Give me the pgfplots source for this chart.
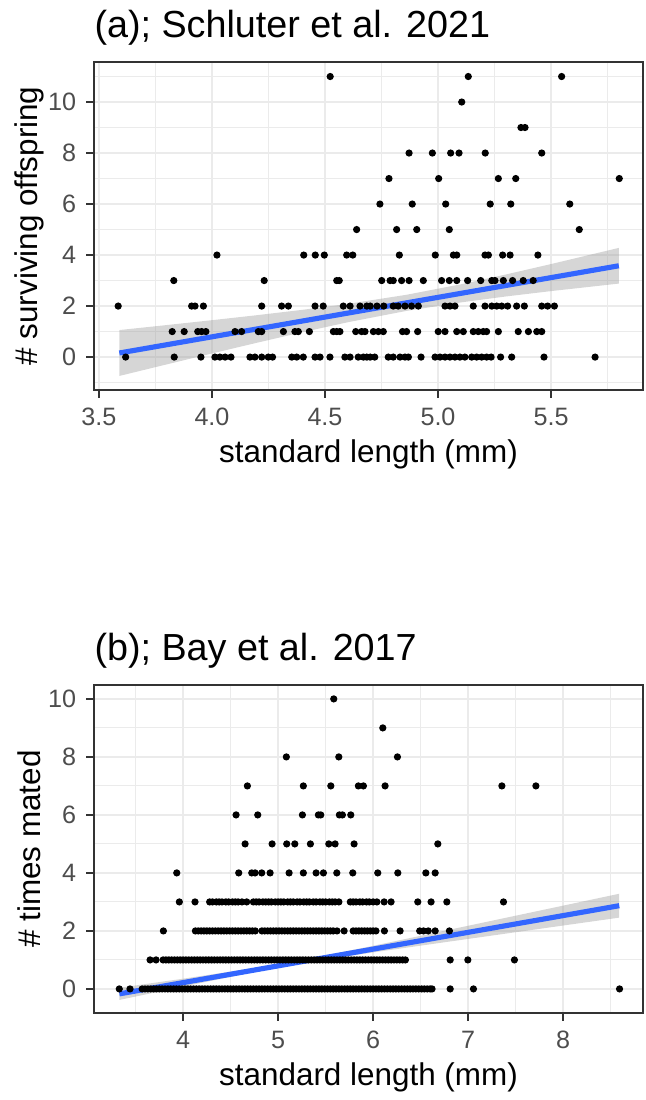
\documentclass[border=0pt]{standalone}
\usepackage{fontspec}
\setmainfont{Liberation Sans}
\usepackage{pgfplots}
\pgfplotsset{compat=1.18}
\definecolor{gridc}{HTML}{EBEBEB}
\definecolor{borderc}{HTML}{333333}
\definecolor{tickc}{HTML}{4D4D4D}
\definecolor{smoothc}{HTML}{3366FF}
\definecolor{ribc}{HTML}{999999}
\pgfplotsset{
 ggstyle/.style={
  scale only axis, width=192.15pt, height=114.8pt,
  axis line style={borderc, line width=0.75pt},
  grid=both,
  major grid style={gridc, line width=0.6pt},
  minor grid style={gridc, line width=0.35pt},
  tick align=outside, major tick length=2.75pt, minor tick length=0pt,
  tick style={borderc, line width=0.6pt},
  xtick pos=left, ytick pos=left,
  ticklabel style={font=\fontsize{8.8}{10}\selectfont, text=tickc},
  /pgf/number format/assume math mode=true,
  label style={font=\fontsize{11}{13}\selectfont},
  xlabel style={at={(axis description cs:0.5,-0.195)}, anchor=center},
  ylabel style={at={(axis description cs:-0.118,0.5)}, anchor=center},
  title style={at={(0,1)}, anchor=base west, yshift=2.4pt, inner sep=0pt, font=\fontsize{13.2}{15}\selectfont},
 },
 pts/.style={only marks, mark=*, mark size=1.05pt, black},
 rib/.style={draw=none, fill=ribc, fill opacity=0.4},
 fit/.style={smoothc, line width=1.8pt},
}
\begin{document}
\begin{tikzpicture}
\path[use as bounding box] (0,0) rectangle (225.75pt,385pt);
% ---------- panel (a)
\begin{axis}[ggstyle, at={(32.9pt,363.3pt)}, anchor=north west,
 xmin=3.478, xmax=5.907, ymin=-1.29, ymax=11.57,
 xtick={3.5,4,4.5,5,5.5}, xticklabels={3.5,4.0,4.5,5.0,5.5},
 minor xtick={3.75,4.25,4.75,5.25,5.75},
 ytick={0,2,4,6,8,10}, minor ytick={-1,1,3,5,7,9,11},
 xlabel={standard length (mm)}, ylabel={\# surviving offspring},
 title={(a); Schluter et al. 2021}]
\addplot[pts] coordinates {
(3.618,0)(3.833,0)(3.951,0)(4.013,0)(4.035,0)(4.058,0)(4.084,0)(4.168,0)(4.190,0)(4.220,0)(4.249,0)(4.268,0)
(4.353,0)(4.375,0)(4.404,0)(4.456,0)(4.478,0)(4.522,0)(4.588,0)(4.611,0)(4.647,0)(4.670,0)(4.685,0)(4.70,0)(4.72,0)
(4.780,0)(4.802,0)(4.832,0)(4.854,0)(4.869,0)(4.925,0)(4.987,0)(5.009,0)(5.031,0)(5.053,0)(5.075,0)(5.097,0)(5.119,0)
(5.149,0)(5.171,0)(5.193,0)(5.215,0)(5.235,0)(5.277,0)(5.326,0)(5.469,0)(5.695,0)
(3.824,1)(3.877,1)(3.937,1)(3.954,1)(3.973,1)(4.102,1)(4.131,1)(4.205,1)(4.220,1)(4.316,1)(4.367,1)(4.382,1)(4.431,1)
(4.537,1)(4.552,1)(4.566,1)(4.636,1)(4.662,1)(4.677,1)(4.714,1)(4.736,1)(4.758,1)(4.843,1)(4.861,1)(4.910,1)(5.001,1)
(5.031,1)(5.083,1)(5.112,1)(5.156,1)(5.178,1)(5.200,1)(5.215,1)(5.267,1)(5.355,1)(5.400,1)(5.437,1)(5.459,1)
(3.585,2)(3.910,2)(3.925,2)(3.962,2)(4.220,2)(4.308,2)(4.338,2)(4.456,2)(4.492,2)(4.581,2)(4.611,2)(4.655,2)(4.685,2)
(4.70,2)(4.73,2)(4.76,2)(4.802,2)(4.824,2)(4.854,2)(4.883,2)(4.913,2)(5.031,2)(5.053,2)(5.075,2)(5.156,2)(5.208,2)
(5.238,2)(5.260,2)(5.282,2)(5.308,2)(5.348,2)(5.382,2)(5.459,2)(5.485,2)(5.515,2)
(3.831,3)(4.231,3)(4.552,3)(4.563,3)(4.751,3)(4.788,3)(4.802,3)(4.839,3)(4.872,3)(4.935,3)(5.016,3)(5.050,3)(5.083,3)
(5.131,3)(5.189,3)(5.238,3)(5.252,3)(5.289,3)(5.330,3)(5.377,3)(5.421,3)
(4.022,4)(4.406,4)(4.457,4)(4.497,4)(4.596,4)(4.623,4)(4.829,4)(4.988,4)(5.068,4)(5.083,4)(5.208,4)(5.223,4)(5.286,4)
(5.319,4)(5.442,4)
(4.640,5)(4.817,5)(4.906,5)(5.050,5)(5.625,5)
(4.743,6)(4.886,6)(5.034,6)(5.231,6)(5.322,6)(5.583,6)
(4.783,7)(5.003,7)(5.267,7)(5.344,7)(5.802,7)
(4.872,8)(4.975,8)(5.056,8)(5.093,8)(5.209,8)(5.459,8)
(5.367,9)(5.385,9)
(5.105,10)
(4.523,11)(5.134,11)(5.547,11)
};
\addplot[rib] coordinates {
(3.59,1.06)(3.8,1.256)(4.0,1.447)(4.2,1.644)(4.4,1.853)(4.6,2.084)(4.86,2.442)(5.1,2.852)(5.3,3.238)(5.5,3.647)(5.8,4.281)
(5.8,2.881)(5.5,2.587)(5.3,2.376)(5.1,2.142)(4.86,1.810)(4.6,1.364)(4.4,0.975)(4.2,0.564)(4.0,0.143)(3.8,-0.286)(3.59,-0.74)
};
\addplot[fit] coordinates {(3.59,0.16)(5.80,3.58)};
\end{axis}
% ---------- panel (b)
\begin{axis}[ggstyle, at={(32.9pt,145.25pt)}, anchor=north west,
 xmin=3.063, xmax=8.84, ymin=-0.83, ymax=10.48,
 xtick={4,5,6,7,8}, minor xtick={3.5,4.5,5.5,6.5,7.5,8.5},
 ytick={0,2,4,6,8,10}, minor ytick={1,3,5,7,9},
 xlabel={standard length (mm)}, ylabel={\# times mated},
 title={(b); Bay et al. 2017}]
\addplot[pts] coordinates {
(3.329,0)(3.442,0)
(3.57,0)(3.60,0)(3.63,0)(3.66,0)(3.69,0)(3.72,0)(3.75,0)(3.78,0)(3.81,0)(3.84,0)(3.87,0)(3.90,0)(3.93,0)(3.96,0)(3.99,0)
(4.02,0)(4.05,0)(4.08,0)(4.11,0)(4.14,0)(4.17,0)(4.20,0)(4.23,0)(4.26,0)(4.29,0)(4.32,0)(4.35,0)(4.38,0)(4.41,0)(4.44,0)
(4.47,0)(4.50,0)(4.53,0)(4.56,0)(4.59,0)(4.62,0)(4.65,0)(4.68,0)(4.71,0)(4.74,0)(4.77,0)(4.80,0)(4.83,0)(4.86,0)(4.89,0)
(4.92,0)(4.95,0)(4.98,0)(5.01,0)(5.04,0)(5.07,0)(5.10,0)(5.13,0)(5.16,0)(5.19,0)(5.22,0)(5.25,0)(5.28,0)(5.31,0)(5.34,0)
(5.37,0)(5.40,0)(5.43,0)(5.46,0)(5.49,0)(5.52,0)(5.55,0)(5.58,0)(5.61,0)(5.64,0)(5.67,0)(5.70,0)(5.73,0)(5.76,0)(5.79,0)
(5.82,0)(5.85,0)(5.88,0)(5.91,0)(5.94,0)(5.97,0)(6.00,0)(6.03,0)(6.06,0)(6.09,0)(6.12,0)(6.15,0)(6.18,0)(6.21,0)(6.24,0)
(6.27,0)(6.30,0)(6.33,0)(6.36,0)(6.39,0)(6.42,0)(6.45,0)(6.48,0)(6.51,0)(6.54,0)(6.57,0)(6.60,0)(6.62,0)
(6.811,0)(7.056,0)(8.593,0)
(3.653,1)(3.716,1)
(3.79,1)(3.82,1)(3.85,1)(3.88,1)(3.91,1)(3.94,1)(3.97,1)(4.00,1)(4.03,1)(4.06,1)(4.09,1)(4.12,1)(4.15,1)(4.18,1)(4.21,1)
(4.24,1)(4.27,1)(4.30,1)(4.33,1)(4.36,1)(4.39,1)(4.42,1)(4.45,1)(4.48,1)(4.51,1)(4.54,1)(4.57,1)(4.60,1)(4.63,1)(4.66,1)
(4.69,1)(4.72,1)(4.75,1)(4.78,1)(4.81,1)(4.84,1)(4.87,1)(4.90,1)(4.93,1)(4.96,1)(4.99,1)(5.02,1)(5.05,1)(5.08,1)(5.11,1)
(5.14,1)(5.17,1)(5.20,1)(5.23,1)(5.26,1)(5.29,1)(5.32,1)(5.35,1)(5.38,1)(5.41,1)(5.44,1)(5.47,1)(5.50,1)(5.53,1)(5.56,1)
(5.59,1)(5.62,1)(5.65,1)(5.68,1)(5.71,1)(5.74,1)(5.77,1)(5.80,1)(5.83,1)(5.86,1)(5.89,1)(5.92,1)(5.95,1)(5.98,1)(6.01,1)
(6.04,1)(6.07,1)(6.10,1)(6.13,1)(6.16,1)(6.19,1)(6.22,1)(6.25,1)(6.28,1)(6.31,1)(6.34,1)
(6.811,1)(6.997,1)(7.487,1)
(3.793,2)
(4.13,2)(4.16,2)(4.19,2)(4.22,2)(4.25,2)(4.28,2)(4.31,2)(4.34,2)(4.37,2)(4.40,2)(4.43,2)(4.46,2)(4.49,2)(4.52,2)(4.55,2)
(4.58,2)(4.61,2)(4.64,2)(4.67,2)(4.70,2)(4.73,2)(4.76,2)
(4.83,2)(4.86,2)(4.89,2)(4.92,2)(4.95,2)(4.98,2)(5.01,2)(5.04,2)(5.07,2)(5.10,2)(5.13,2)(5.16,2)(5.19,2)(5.22,2)(5.25,2)
(5.28,2)(5.31,2)(5.34,2)(5.37,2)(5.40,2)(5.43,2)(5.46,2)(5.49,2)(5.52,2)(5.55,2)(5.58,2)(5.62,2)
(5.695,2)(5.79,2)(5.82,2)(5.85,2)(5.88,2)(5.91,2)(5.94,2)(5.97,2)(6.00,2)(6.03,2)
(6.119,2)(6.284,2)(6.49,2)(6.53,2)(6.58,2)(6.653,2)(6.803,2)
(3.961,3)(4.126,3)
(4.28,3)(4.31,3)(4.35,3)(4.38,3)(4.41,3)(4.45,3)(4.48,3)(4.52,3)(4.55,3)(4.58,3)(4.62,3)(4.67,3)
(4.74,3)(4.77,3)(4.80,3)(4.84,3)(4.87,3)(4.90,3)(4.93,3)(4.97,3)(5.00,3)(5.03,3)(5.06,3)(5.10,3)(5.13,3)(5.16,3)(5.20,3)
(5.23,3)(5.27,3)
(5.30,3)(5.33,3)(5.37,3)(5.40,3)(5.44,3)(5.47,3)(5.50,3)(5.54,3)(5.57,3)(5.60,3)(5.64,3)
(5.76,3)(5.79,3)(5.82,3)(5.86,3)(5.89,3)(5.93,3)(5.96,3)(6.00,3)(6.04,3)
(6.116,3)(6.189,3)(6.470,3)(6.610,3)(6.776,3)(7.372,3)
(3.934,4)(4.586,4)(4.723,4)(4.758,4)(4.828,4)(4.916,4)(5.116,4)(5.266,4)(5.400,4)(5.477,4)(5.618,4)(5.786,4)
(6.049,4)(6.260,4)(6.555,4)(6.653,4)
(4.653,5)(4.937,5)(5.091,5)(5.176,5)(5.340,5)(5.534,5)(5.600,5)(5.800,5)(6.681,5)
(4.558,6)(4.786,6)(5.256,6)(5.424,6)(5.449,6)(5.645,6)(5.677,6)(5.765,6)
(4.677,7)(5.266,7)(5.555,7)(5.845,7)(5.898,7)(6.126,7)(7.355,7)(7.713,7)
(5.087,8)(5.639,8)(6.256,8)
(6.102,9)
(5.586,10)
};
\addplot[rib] coordinates {
(3.33,0.04)(4.0,0.352)(5.1,0.893)(6.0,1.486)(7.0,2.178)(8.0,2.872)(8.59,3.282)
(8.59,2.458)(8.0,2.186)(7.0,1.724)(6.0,1.260)(5.1,0.813)(4.0,0.082)(3.33,-0.38)
};
\addplot[fit] coordinates {(3.33,-0.17)(8.59,2.87)};
\end{axis}
\end{tikzpicture}
\end{document}
